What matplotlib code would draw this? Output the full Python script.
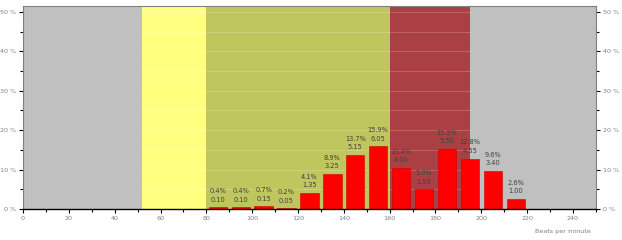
import numpy as np
import matplotlib.pyplot as plt
from matplotlib.ticker import MultipleLocator, FuncFormatter

# heart-rate zones (bpm) and colours
zone_edges = [0, 52, 80, 160, 195, 250]
zone_colors = ['#c0c0c0', '#ffff80', '#bfc65e', '#ab4044', '#c0c0c0']

# histogram bins (left edge, bpm), share of time (%) and minutes
bin_left = [80, 90, 100, 110, 120, 130, 140, 150, 160, 170, 180, 190, 200, 210]
percent = [0.4, 0.4, 0.7, 0.2, 4.1, 8.9, 13.7, 15.9, 10.4, 5.0, 15.2, 12.8, 9.6, 2.6]
minutes = ['0.10', '0.10', '0.15', '0.05', '1.35', '3.25', '5.15', '6.05',
           '4.00', '1.55', '5.50', '4.55', '3.40', '1.00']

fig = plt.figure(figsize=(6.22, 2.40), dpi=100)
ax = fig.add_axes([0.037, 0.129, 0.921, 0.846])

for i in range(len(zone_colors)):
    ax.axvspan(zone_edges[i], zone_edges[i + 1], color=zone_colors[i], zorder=0, lw=0)

# faint gridlines, only visible across the coloured zones
ax.hlines(np.arange(5, 55, 5), zone_edges[1], zone_edges[4], color='white',
          alpha=0.22, lw=0.6, zorder=1)

centers = np.array(bin_left) + 5
ax.bar(centers, percent, width=8, color='#ff0000', edgecolor='#d00000', lw=0.4, zorder=2)

for x, p, m in zip(centers, percent, minutes):
    ax.text(x, p + 1.2, '%.1f%%\n%s' % (p, m), ha='center', va='bottom',
            fontsize=4.8, color='#404040', linespacing=1.5, zorder=3)

ax.set_xlim(0, 250)
ax.set_ylim(0, 51.5)
ax.xaxis.set_major_locator(MultipleLocator(20))
ax.xaxis.set_minor_locator(MultipleLocator(10))
ax.yaxis.set_major_locator(MultipleLocator(10))
ax.yaxis.set_minor_locator(MultipleLocator(5))
ax.yaxis.set_major_formatter(FuncFormatter(lambda v, pos: '%d %%' % v))

ax.tick_params(axis='both', which='both', direction='out', color='black',
               labelsize=4.6, labelcolor='#808080', width=0.8)
ax.tick_params(axis='both', which='major', length=3, pad=2)
ax.tick_params(axis='both', which='minor', length=2)
ax.tick_params(axis='x', which='both', top=False)
ax.tick_params(axis='y', which='both', right=True, labelright=True)

for side in ['top', 'right', 'left']:
    ax.spines[side].set_color('#808080')
    ax.spines[side].set_linewidth(0.8)
ax.spines['bottom'].set_color('black')
ax.spines['bottom'].set_linewidth(1.0)

fig.text(0.905, 0.035, 'Beats per minute', ha='center', va='center',
         fontsize=4.6, color='#808080')

fig.savefig('out.png', dpi=100)
